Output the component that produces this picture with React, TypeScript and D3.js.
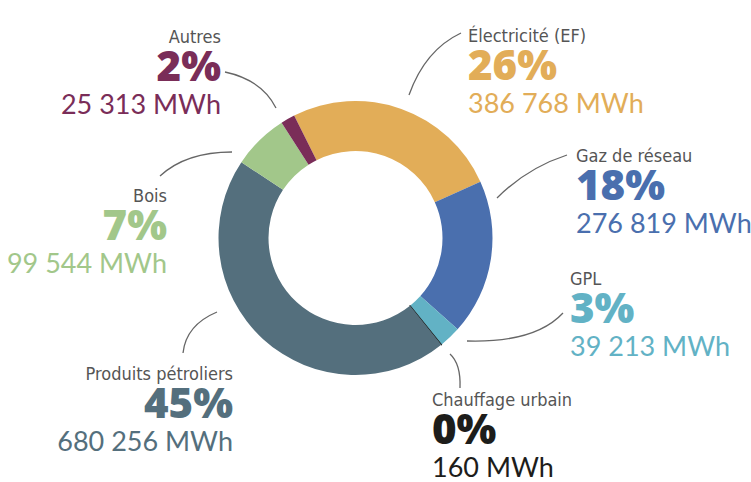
import * as d3 from 'd3';
import * as React from 'react';

const WIDTH = 751;
const HEIGHT = 482;

// data, clockwise from the top
const categories = [
  'Électricité (EF)',
  'Gaz de réseau',
  'GPL',
  'Chauffage urbain',
  'Produits pétroliers',
  'Bois',
  'Autres',
];
const valuesMWh = [386768, 276819, 39213, 160, 680256, 99544, 25313];
const percentLabels = ['26%', '18%', '3%', '0%', '45%', '7%', '2%'];
const valueLabels = [
  '386 768 MWh',
  '276 819 MWh',
  '39 213 MWh',
  '160 MWh',
  '680 256 MWh',
  '99 544 MWh',
  '25 313 MWh',
];
const colors = ['#e2ad58', '#4a6fae', '#62b2c5', '#1d1d1b', '#546f7d', '#a2c78a', '#7a2d58'];

// label layout: anchor point (x, y of the name baseline), alignment, connector curve
interface LabelLayout {
  x: number;
  y: number;
  anchor: 'start' | 'end';
  curve: [number, number, number, number, number, number];
}
const layout: LabelLayout[] = [
  { x: 468, y: 42, anchor: 'start', curve: [461, 33, 425, 50, 409, 95] },
  { x: 576, y: 162, anchor: 'start', curve: [567, 155, 527, 168, 497, 198] },
  { x: 570, y: 285, anchor: 'start', curve: [563, 313, 535, 343, 467, 341] },
  { x: 432, y: 406, anchor: 'start', curve: [450, 354, 461, 364, 460, 388] },
  { x: 233, y: 380, anchor: 'end', curve: [183, 353, 186, 325, 217, 312] },
  { x: 167, y: 202, anchor: 'end', curve: [160, 176, 186, 152, 232, 152] },
  { x: 221, y: 43, anchor: 'end', curve: [225, 72, 262, 80, 276, 108] },
];

const CX = 355.5;
const CY = 238;
const OUTER = 137;
const INNER = 87;
const START = (-26.6 * Math.PI) / 180;

const NAME_FONT = '"DejaVu Sans Condensed", "DejaVu Sans", sans-serif';
const PCT_FONT = '"Open Sans", sans-serif';
const VAL_FONT = 'Lato, sans-serif';

export default function App() {
  const pie = d3
    .pie<number>()
    .sort(null)
    .value(d => d)
    .startAngle(START)
    .endAngle(START + 2 * Math.PI);
  const arcs = pie(valuesMWh);
  const arc = d3.arc<d3.PieArcDatum<number>>().innerRadius(INNER).outerRadius(OUTER);

  return (
    <svg
      width={WIDTH}
      height={HEIGHT}
      viewBox={`0 0 ${WIDTH} ${HEIGHT}`}
      style={{ position: 'absolute', left: 0, top: 0, background: '#fff' }}
    >
      <g transform={`translate(${CX},${CY})`}>
        {arcs.map((a, i) => (
          <path
            key={categories[i]}
            d={arc(a) as string}
            fill={colors[i]}
            stroke={valuesMWh[i] < 1000 ? colors[i] : 'none'}
            strokeWidth={valuesMWh[i] < 1000 ? 1.2 : 0}
          />
        ))}
      </g>
      {layout.map((l, i) => {
        const [x1, y1, cx, cy, x2, y2] = l.curve;
        return (
          <g key={categories[i]}>
            <path
              d={`M${x1},${y1}Q${cx},${cy} ${x2},${y2}`}
              fill="none"
              stroke="#666"
              strokeWidth={1.3}
            />
            <text
              x={l.x}
              y={l.y}
              textAnchor={l.anchor}
              fontFamily={NAME_FONT}
              fontSize={18}
              fill="#555"
            >
              {categories[i]}
            </text>
            <text
              x={l.x}
              y={l.y + 38}
              textAnchor={l.anchor}
              fontFamily={PCT_FONT}
              fontWeight={800}
              fontSize={42}
              fill={colors[i]}
            >
              {percentLabels[i]}
            </text>
            <text
              x={l.x}
              y={l.y + 71}
              textAnchor={l.anchor}
              fontFamily={VAL_FONT}
              fontWeight={400}
              fontSize={27}
              fill={colors[i]}
            >
              {valueLabels[i]}
            </text>
          </g>
        );
      })}
    </svg>
  );
}
